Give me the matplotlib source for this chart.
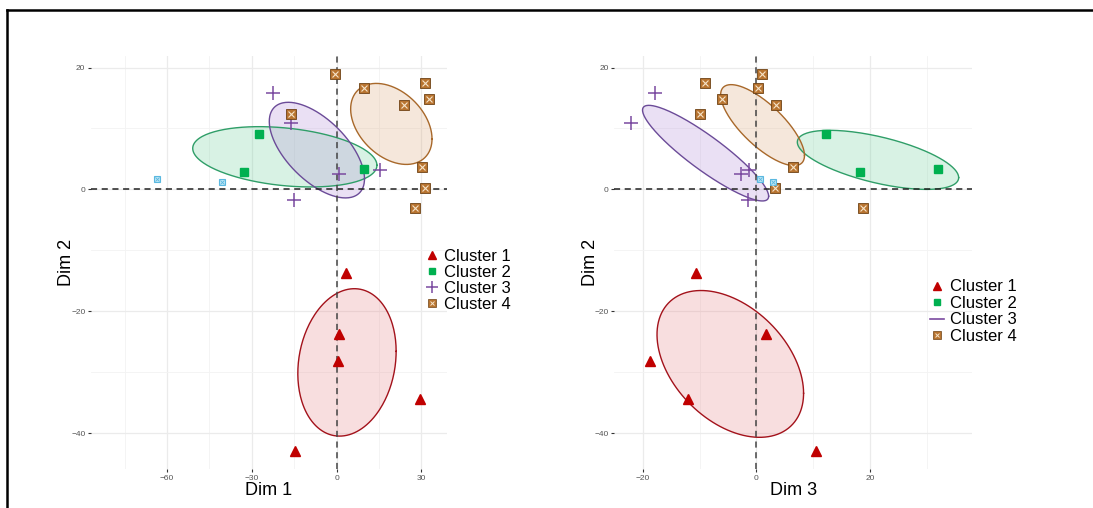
import numpy as np
import matplotlib
matplotlib.use("Agg")
import matplotlib.pyplot as plt
from matplotlib.lines import Line2D

plt.rcParams["font.family"] = ["Liberation Sans", "DejaVu Sans"]

# ---- data ----------------------------------------------------------------
# Dim 2 is shared by both panels
c1_dim1 = [3.4, 0.9, 0.6, 29.4, -14.6]
c1_dim3 = [-10.7, 1.7, -18.7, -12.0, 10.5]
c1_dim2 = [-13.7, -23.7, -28.1, -34.4, -42.9]

c2_dim1 = [-27.5, -32.6, 9.6]
c2_dim3 = [12.2, 18.3, 31.9]
c2_dim2 = [9.1, 2.8, 3.4]

c3_dim1 = [-22.6, -16.2, 0.9, 15.3, -15.1]
c3_dim3 = [-17.9, -22.1, -2.65, -1.35, -1.4]
c3_dim2 = [15.9, 10.9, 2.5, 3.2, -1.8]

c4_dim1 = [-0.6, 9.7, 31.4, 32.8, 24.0, -16.0, 30.2, 31.4, 27.7]
c4_dim3 = [0.9, 0.3, -9.1, -6.05, 3.4, -9.9, 6.5, 3.2, 18.7]
c4_dim2 = [18.9, 16.7, 17.5, 14.9, 13.9, 12.3, 3.7, 0.2, -3.0]

# unlabelled light-blue points (not in the legend)
c5_dim1 = [-63.7, -40.4]
c5_dim3 = [0.6, 3.0]
c5_dim2 = [1.7, 1.2]

# ellipses: centre x, centre y, half x-extent, half y-extent, correlation
ell_dim1 = {1: (3.7, -28.4, 17.4, 12.1, 0.15),
            2: (-18.3, 5.35, 32.6, 4.95, -0.28),
            3: (-6.95, 6.45, 16.85, 7.85, -0.6),
            4: (19.4, 10.75, 14.4, 6.65, -0.37)}
ell_dim3 = {1: (-4.6, -28.65, 12.9, 12.05, -0.4),
            2: (21.4, 4.85, 14.2, 4.85, -0.6),
            3: (-8.95, 5.95, 11.1, 7.85, -0.9),
            4: (1.08, 10.55, 7.38, 6.65, -0.75)}

EDGE = {1: "#a3121b", 2: "#2f9e68", 3: "#6b4b98", 4: "#a8682a"}
FILL = {1: "#e8868a", 2: "#6fd19c", 3: "#b48fd8", 4: "#dca77a"}
RED, GREEN, PURPLE, BROWN, CYAN = "#c00000", "#00b050", "#7a4aa0", "#b87430", "#5ab8e0"


def ellipse_xy(cx, cy, sx, sy, r, n=240):
    t = np.linspace(0, 2 * np.pi, n)
    return (cx + sx * np.cos(t),
            cy + sy * (r * np.cos(t) + np.sqrt(1 - r ** 2) * np.sin(t)))


def draw(ax, ells, xs, xlim, xticks, xminor, xlabel):
    c1x, c2x, c3x, c4x, c5x = xs
    ax.set_xlim(*xlim)
    ax.set_ylim(-45.9, 21.9)
    ax.set_xticks(xticks)
    ax.set_xticks(xminor, minor=True)
    ax.set_yticks([20, 0, -20, -40])
    ax.set_yticks([10, -10, -30], minor=True)
    ax.grid(True, which="major", color="#ebebeb", lw=0.9)
    ax.grid(True, which="minor", color="#f3f3f3", lw=0.6)
    ax.set_axisbelow(True)
    for sp in ax.spines.values():
        sp.set_visible(False)
    ax.tick_params(which="major", length=2, width=0.8, color="#333333",
                   labelsize=6, labelcolor="#555555", pad=2)
    ax.tick_params(which="minor", length=0)

    for k in (2, 3, 4, 1):
        x, y = ellipse_xy(*ells[k])
        ax.fill(x, y, color=FILL[k], alpha=0.27, lw=0, zorder=1)
        ax.plot(x, y, color=EDGE[k], lw=1.0, zorder=2)

    ax.axhline(0, color="#222222", ls=(0, (4, 3)), lw=1.1, zorder=3)
    ax.axvline(0, color="#444444", ls=(0, (4, 3)), lw=1.1, zorder=3)

    ax.plot(c1x, c1_dim2, ls="none", marker="^", ms=7.5, color=RED, zorder=5)
    ax.plot(c2x, c2_dim2, ls="none", marker="s", ms=5.8, color=GREEN, zorder=5)
    ax.plot(c3x, c3_dim2, ls="none", marker="+", ms=10, mew=1.1,
            color=PURPLE, zorder=5)
    ax.plot(c4x, c4_dim2, ls="none", marker="s", ms=6.8, color=BROWN,
            mec="#6e4215", mew=0.6, zorder=5)
    ax.plot(c4x, c4_dim2, ls="none", marker="x", ms=4, mew=0.8,
            color="#f6e3c8", zorder=6)
    ax.plot(c5x, c5_dim2, ls="none", marker="s", ms=4.2, color="#bfe6f5",
            mec=CYAN, mew=0.8, zorder=5)
    ax.plot(c5x, c5_dim2, ls="none", marker="x", ms=3, mew=0.6,
            color=CYAN, zorder=6)

    ax.set_xlabel(xlabel, fontsize=13, labelpad=0)
    ax.set_ylabel("Dim 2", fontsize=13, labelpad=-3)


fig = plt.figure(figsize=(10.93, 5.08), dpi=100)
ax1 = fig.add_axes([91 / 1093, 39 / 508, 356 / 1093, 413 / 508])
ax2 = fig.add_axes([614.4 / 1093, 39 / 508, 357.9 / 1093, 413 / 508])

draw(ax1, ell_dim1, (c1_dim1, c2_dim1, c3_dim1, c4_dim1, c5_dim1),
     (-86.9, 39.1), [-60, -30, 0, 30], [-75, -45, -15, 15], "Dim 1")
draw(ax2, ell_dim3, (c1_dim3, c2_dim3, c3_dim3, c4_dim3, c5_dim3),
     (-25.0, 38.0), [-20, 0, 20], [-10, 10, 30], "Dim 3")

labels = ["Cluster 1", "Cluster 2", "Cluster 3", "Cluster 4"]


def handles(c3_line):
    h = [Line2D([], [], ls="none", marker="^", ms=6, color=RED),
         Line2D([], [], ls="none", marker="s", ms=4.5, color=GREEN)]
    if c3_line:
        h.append(Line2D([], [], color=PURPLE, lw=1.2))
    else:
        h.append(Line2D([], [], ls="none", marker="+", ms=9, mew=1.1,
                        color=PURPLE))
    h.append((Line2D([], [], ls="none", marker="s", ms=5.5, color=BROWN,
                     mec="#6e4215", mew=0.5),
              Line2D([], [], ls="none", marker="x", ms=3.2, mew=0.7,
                     color="#f6e3c8")))
    return h


fig.legend(handles(False), labels, loc="upper left",
           bbox_to_anchor=(417 / 1093, 1 - 241 / 508), frameon=False,
           fontsize=12, labelspacing=0.05, handlelength=0.8,
           handletextpad=0.35, borderpad=0)
fig.legend(handles(True), labels, loc="upper left",
           bbox_to_anchor=(922 / 1093, 1 - 271 / 508), frameon=False,
           fontsize=12, labelspacing=0.09, handlelength=0.8,
           handletextpad=0.35, borderpad=0)

# black frame lines (top and left only)
fig.add_artist(Line2D([7 / 1093, 1.0], [1 - 10 / 508] * 2, color="black",
                      lw=1.8, transform=fig.transFigure))
fig.add_artist(Line2D([7 / 1093] * 2, [0, 1 - 10 / 508], color="black",
                      lw=1.8, transform=fig.transFigure))

fig.savefig("out.png", dpi=100)
